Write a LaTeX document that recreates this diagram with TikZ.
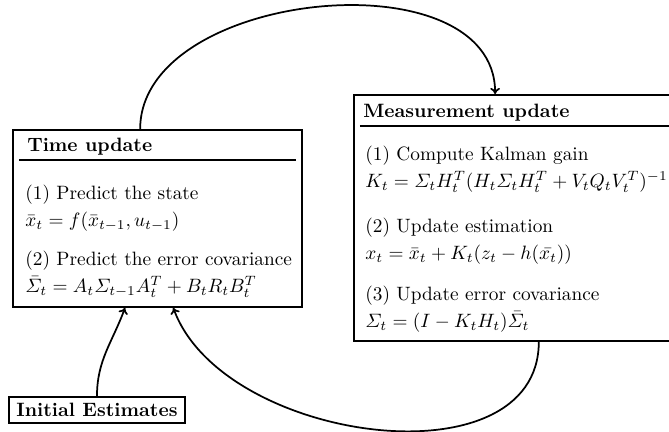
\documentclass[tikz,border=0pt]{standalone}
\usepackage{amsmath}
\usepackage{tikz}
\usetikzlibrary{arrows.meta,positioning}
\tikzset{
  stepbox/.style={
    rectangle, draw=black, line width=0.9pt, fill=none,
    inner sep=0pt
  },
  ttl/.style={font=\bfseries, anchor=west, inner sep=0pt},
  item/.style={anchor=west, align=left, inner sep=0pt},
  rulel/.style={line width=0.9pt},
  arr/.style={-{To[length=3.2pt,width=5pt]}, line width=0.9pt, black}
}

\begin{document}
\begin{tikzpicture}

\useasboundingbox (0,0) rectangle (12.176,7.862);

% ── Time update ───────────────────────────────────────────────────
\node[stepbox, minimum width=5.26cm, minimum height=3.22cm] (tu)
  at (2.867, 3.886) {};
\node[ttl] (tutitle) at (0.491, 5.187) {Time update};
\draw[rulel] (0.346, 4.950) -- (5.387, 4.950);

\node[item] (tu1) at (0.455, 4.066)
  {(1) Predict the state\\[2pt]
   $\bar{x}_t = f(\bar{x}_{t-1}, u_{t-1})$};
\node[item] (tu2) at (0.455, 2.866)
  {(2) Predict the error covariance\\[2pt]
   $\bar{\varSigma}_t = A_t \varSigma_{t-1} A_t^T + B_t R_t B_t^T$};

% ── Measurement update (runs past the right edge) ─────────────────
\node[stepbox, minimum width=5.933cm, minimum height=4.477cm] (mu)
  at (9.409, 3.895) {};
\node[ttl] (mutitle) at (6.607, 5.806) {Measurement update};
\draw[rulel] (6.552, 5.569) -- (12.27, 5.569);

\node[item] (mu1) at (6.643, 4.777)
  {(1) Compute Kalman gain\\[2pt]
   $K_t = \varSigma_t H_t^T (H_t \varSigma_t H_t^T + V_t Q_t V_t^T)^{-1}$};
\node[item] (mu2) at (6.643, 3.466)
  {(2) Update estimation\\[2pt]
   $x_t = \bar{x}_t + K_t(z_t - h(\bar{x_t}))$};
\node[item] (mu3) at (6.643, 2.229)
  {(3) Update error covariance\\[2pt]
   $\varSigma_t = (I - K_t H_t)\bar{\varSigma}_t$};

% ── Initial estimates ─────────────────────────────────────────────
\node[stepbox, font=\bfseries, minimum width=3.203cm, minimum height=0.473cm]
  (ie) at (1.765, 0.400) {Initial Estimates};

% ── Loop arrows ───────────────────────────────────────────────────
\draw[arr] (tu.101) to[out=90, in=90] (mu.100);
\draw[arr] (mu.280) to[out=-90, in=-70] (tu.280);
\draw[arr] (ie.north) to[out=90, in=-110] (tu.250);

\end{tikzpicture}
\end{document}
